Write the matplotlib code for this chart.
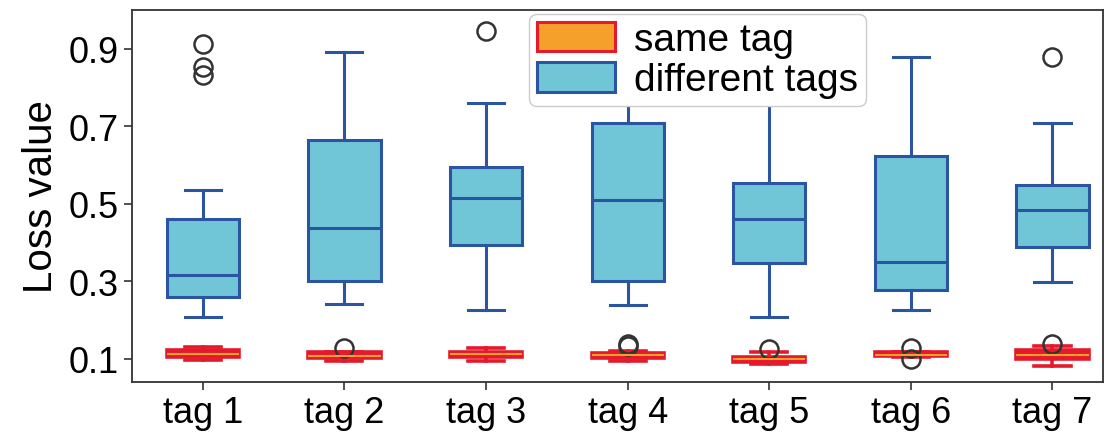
import matplotlib
matplotlib.use("Agg")
import matplotlib.pyplot as plt
from matplotlib.patches import Patch

plt.rcParams['font.family'] = ['Liberation Sans', 'DejaVu Sans']

categories = ["tag 1", "tag 2", "tag 3", "tag 4", "tag 5", "tag 6", "tag 7"]

# "different tags" box statistics
diff_whislo = [0.208, 0.241, 0.226, 0.239, 0.208, 0.226, 0.298]
diff_q1     = [0.259, 0.301, 0.392, 0.301, 0.347, 0.277, 0.388]
diff_med    = [0.315, 0.436, 0.514, 0.510, 0.460, 0.349, 0.483]
diff_q3     = [0.461, 0.663, 0.595, 0.708, 0.553, 0.624, 0.549]
diff_whishi = [0.534, 0.891, 0.760, 0.850, 0.800, 0.878, 0.709]
diff_fliers = [[0.913, 0.853, 0.833], [], [0.946], [], [], [], [0.878]]

# "same tag" box statistics
same_whislo = [0.097, 0.093, 0.094, 0.093, 0.087, 0.104, 0.082]
same_q1     = [0.104, 0.102, 0.103, 0.101, 0.092, 0.106, 0.100]
same_med    = [0.113, 0.107, 0.111, 0.108, 0.098, 0.110, 0.109]
same_q3     = [0.121, 0.116, 0.118, 0.115, 0.105, 0.116, 0.121]
same_whishi = [0.130, 0.118, 0.127, 0.120, 0.118, 0.118, 0.133]
same_fliers = [[], [0.128], [], [0.133, 0.138], [0.125], [0.128, 0.100], [0.137]]

def make_stats(lo, q1, med, q3, hi, fl):
    return [dict(whislo=a, q1=b, med=c, q3=d, whishi=e, fliers=f)
            for a, b, c, d, e, f in zip(lo, q1, med, q3, hi, fl)]

blue_face = "#70C5D6"
blue_edge = "#2B55A0"
red_edge = "#E41A2C"
orange_face = "#F5A02A"

fig = plt.figure(figsize=(11.09, 4.35), dpi=100)
ax = fig.add_axes([0.119, 0.12, 0.876, 0.855])

positions = list(range(1, len(categories) + 1))
flier_style = dict(marker='o', markerfacecolor='none', markeredgecolor='#333333',
                   markersize=13, markeredgewidth=1.8)

ax.bxp(make_stats(diff_whislo, diff_q1, diff_med, diff_q3, diff_whishi, diff_fliers),
       positions=positions, widths=0.51, patch_artist=True,
       boxprops=dict(facecolor=blue_face, edgecolor=blue_edge, linewidth=2.2),
       medianprops=dict(color=blue_edge, linewidth=2.2),
       whiskerprops=dict(color=blue_edge, linewidth=2.2),
       capprops=dict(color=blue_edge, linewidth=2.2),
       flierprops=flier_style)

ax.bxp(make_stats(same_whislo, same_q1, same_med, same_q3, same_whishi, same_fliers),
       positions=positions, widths=0.51, patch_artist=True,
       boxprops=dict(facecolor=red_edge, edgecolor=red_edge, linewidth=2.6),
       medianprops=dict(color=orange_face, linewidth=1.5),
       whiskerprops=dict(color=red_edge, linewidth=2.6),
       capprops=dict(color=red_edge, linewidth=2.6),
       flierprops=flier_style)

ax.set_xlim(0.5, 7.36)
ax.set_ylim(0.04, 1.0)
ax.set_yticks([0.1, 0.3, 0.5, 0.7, 0.9])
ax.set_yticklabels(["0.1", "0.3", "0.5", "0.7", "0.9"])
ax.set_xticks(positions)
ax.set_xticklabels(categories)
ax.tick_params(labelsize=26, length=6, width=1.2, color='#333333')
ax.set_ylabel("Loss value", fontsize=29, labelpad=6)
for s in ax.spines.values():
    s.set_color('#333333')
    s.set_linewidth(1.3)

handles = [Patch(facecolor=orange_face, edgecolor=red_edge, linewidth=2.2, label="same tag"),
           Patch(facecolor=blue_face, edgecolor=blue_edge, linewidth=2.2, label="different tags")]
ax.legend(handles=handles, loc='upper left', bbox_to_anchor=(0.405, 1.0), fontsize=28,
          handlelength=2.0, handleheight=0.8, handletextpad=0.5, labelspacing=0.1,
          borderpad=0.2, borderaxespad=0.1, framealpha=1.0)

fig.savefig("out.png", dpi=100)
